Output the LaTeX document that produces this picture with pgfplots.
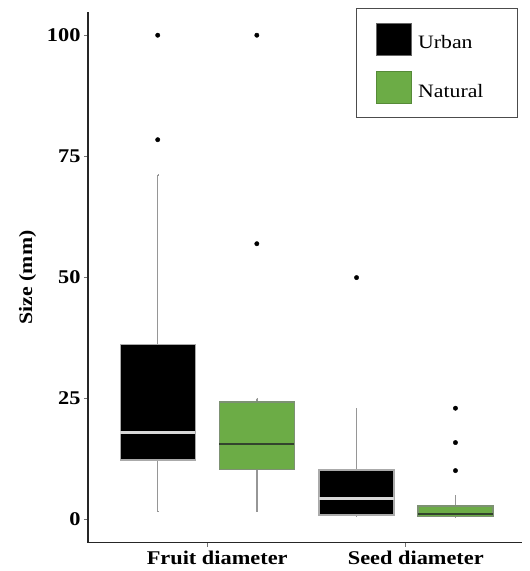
\documentclass[border=0pt]{standalone}
\usepackage{fontspec}
\setmainfont{Liberation Serif}[FakeStretch=1.15]
\usepackage{pgfplots}
\pgfplotsset{compat=1.18}
\usepgfplotslibrary{statistics}
\definecolor{natgreen}{RGB}{108,172,70}
\definecolor{natborder}{RGB}{125,145,115}
\definecolor{natmedian}{RGB}{50,68,45}
\definecolor{urbborder}{RGB}{170,170,170}
\definecolor{urbmedian}{RGB}{215,215,215}
\definecolor{whisk}{RGB}{150,150,150}
\begin{document}
\begin{tikzpicture}
\begin{axis}[
  scale only axis, width=434bp, height=530.7bp,
  xmin=0.4, xmax=2.585, ymin=-4.9, ymax=104.8,
  axis lines*=left,
  axis line style={line width=1.4bp, draw=black!85, -},
  xtick={1,2}, xticklabels={Fruit diameter, Seed diameter},
  ytick={0,25,50,75,100},
  tick align=outside, major tick length=4bp,
  tick style={draw=black!55, line width=0.8bp},
  ticklabel style={font=\fontsize{19.5}{20}\selectfont\bfseries},
  xticklabel style={xshift=10bp, yshift=-1bp},
  /pgf/number format/assume math mode=true,
  ylabel={Size (mm)},
  ylabel style={font=\fontsize{19}{20}\selectfont\bfseries, yshift=4bp},
  boxplot/draw direction=y,
  boxplot/whisker extend=0.001,
  boxplot/box extend=0.377,
  boxplot/every whisker/.style={draw=whisk, line width=1.4bp},
  legend style={at={(0.991,1.0075)}, anchor=north east, draw=black!70,
    line width=1.2bp, fill=white, inner xsep=19bp, inner ysep=14bp,
    row sep=16bp, font=\fontsize{19}{20}\selectfont,
    /tikz/every odd column/.append style={column sep=5bp}},
  legend cell align=left,
]
\addlegendimage{legend image code/.code={\draw[fill=black, draw=black!60, line width=0.6bp] (0bp,-12bp) rectangle (35bp,20bp);}}
\addlegendentry{Urban}
\addlegendimage{legend image code/.code={\draw[fill=natgreen, draw=natgreen!80!black, line width=0.6bp] (0bp,-12bp) rectangle (35bp,20bp);}}
\addlegendentry{Natural\kern13bp}

% Urban - fruit
\addplot[forget plot, fill=black, draw=urbborder, line width=1.3bp,
  boxplot/every median/.style={draw=urbmedian, line width=2.4bp},
  boxplot prepared={draw position=0.751, lower whisker=1.5, lower quartile=12.2,
    median=17.9, upper quartile=36.0, upper whisker=71.1}]
  coordinates {};
% Natural - fruit
\addplot[forget plot, fill=natgreen, draw=natborder, line width=1.3bp,
  boxplot/every median/.style={draw=natmedian, line width=2.4bp},
  boxplot prepared={draw position=1.25, lower whisker=1.5, lower quartile=10.2,
    median=15.5, upper quartile=24.2, upper whisker=24.9}]
  coordinates {};
% Urban - seed
\addplot[forget plot, fill=black, draw=urbborder, line width=1.3bp,
  boxplot/every median/.style={draw=urbmedian, line width=2.4bp},
  boxplot prepared={draw position=1.752, lower whisker=0.5, lower quartile=0.8,
    median=4.2, upper quartile=10.1, upper whisker=22.9}]
  coordinates {};
% Natural - seed
\addplot[forget plot, fill=natgreen, draw=natborder, line width=1.3bp,
  boxplot/every median/.style={draw=natmedian, line width=2.4bp},
  boxplot prepared={draw position=2.25, lower whisker=0.3, lower quartile=0.5,
    median=1.0, upper quartile=2.7, upper whisker=4.8}]
  coordinates {};
% outliers
\addplot[forget plot, only marks, mark=*, mark size=2.2bp, mark options={fill=black, draw=black}]
  coordinates {(0.751,78.4) (0.751,100) (1.25,56.9) (1.25,100) (1.752,49.9)
               (2.25,10.0) (2.25,15.8) (2.25,22.9)};
\end{axis}
\pgfresetboundingbox
\path ([xshift=-88bp,yshift=-28.3bp]current axis.south west) rectangle ([xshift=8bp,yshift=12bp]current axis.north east);
\end{tikzpicture}
\end{document}
